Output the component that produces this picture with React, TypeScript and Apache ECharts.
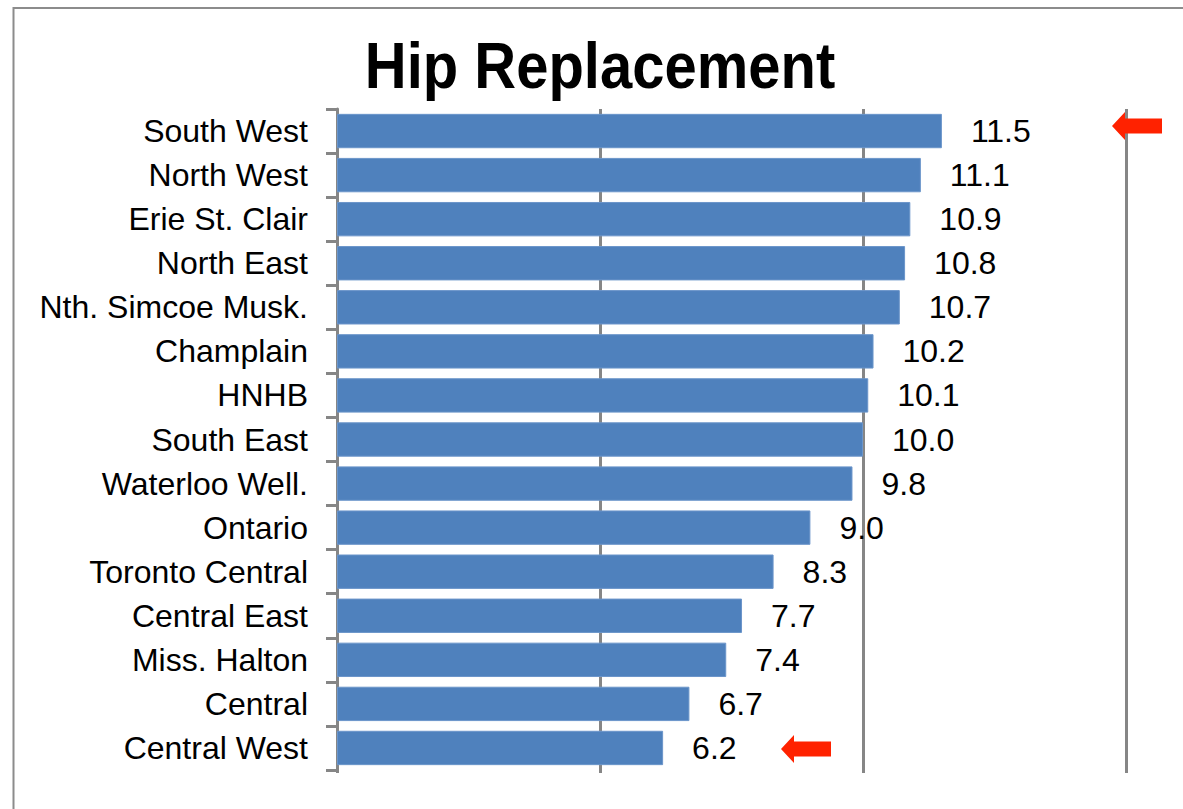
import React, { useEffect, useRef } from "react";
import * as echarts from "echarts";

const categories = [
  "South West",
  "North West",
  "Erie St. Clair",
  "North East",
  "Nth. Simcoe Musk.",
  "Champlain",
  "HNHB",
  "South East",
  "Waterloo Well.",
  "Ontario",
  "Toronto Central",
  "Central East",
  "Miss. Halton",
  "Central",
  "Central West",
];

const values = [11.5, 11.1, 10.9, 10.8, 10.7, 10.2, 10.1, 10.0, 9.8, 9.0, 8.3, 7.7, 7.4, 6.7, 6.2];

const titleText = "Hip Replacement";
const axisMin = 0;
const axisMax = 15;
const axisInterval = 5;

const FONT = "'Liberation Sans', Arial, sans-serif";
const GRAY = "#868686";
const ARROW = "#FF2200";

function arrowPoints(tipX: number, cy: number): number[][] {
  const headLen = 13;
  const headHalf = 14;
  const shaftHalf = 7.5;
  const shaftLen = 37;
  return [
    [tipX, cy],
    [tipX + headLen, cy - headHalf],
    [tipX + headLen, cy - shaftHalf],
    [tipX + headLen + shaftLen, cy - shaftHalf],
    [tipX + headLen + shaftLen, cy + shaftHalf],
    [tipX + headLen, cy + shaftHalf],
    [tipX + headLen, cy + headHalf],
  ];
}

export default function App() {
  const ref = useRef<HTMLDivElement>(null);

  useEffect(() => {
    if (!ref.current) return;
    const chart = echarts.init(ref.current, undefined, { renderer: "svg" });
    chart.setOption({
      animation: false,
      backgroundColor: "#ffffff",
      grid: { left: 337, right: 57, top: 109, bottom: 39, containLabel: false },
      xAxis: {
        type: "value",
        min: axisMin,
        max: axisMax,
        interval: axisInterval,
        axisLabel: { show: false },
        axisLine: { show: false },
        axisTick: { show: true, length: 3, lineStyle: { color: GRAY, width: 3 } },
        splitLine: { show: true, lineStyle: { color: GRAY, width: 3 } },
      },
      yAxis: {
        type: "category",
        data: categories,
        inverse: true,
        axisLine: { show: true, lineStyle: { color: GRAY, width: 3 } },
        axisTick: { show: true, length: 11, lineStyle: { color: GRAY, width: 3 } },
        axisLabel: {
          color: "#000000",
          fontSize: 32,
          fontFamily: FONT,
          margin: 29,
          padding: [5, 0, 0, 0],
        },
        splitLine: { show: false },
      },
      series: [
        {
          type: "bar",
          data: values,
          barCategoryGap: "22%",
          itemStyle: { color: "#4F81BD", borderColor: "#6B95CA", borderWidth: 1 },
          label: {
            show: true,
            position: "right",
            distance: 29,
            color: "#000000",
            fontSize: 32,
            fontFamily: FONT,
            padding: [5, 0, 0, 0],
            formatter: (p: any) => Number(p.value).toFixed(1),
          },
        },
      ],
      graphic: [
        {
          type: "rect",
          shape: { x: 13.5, y: 8, width: 1300, height: 1000 },
          style: { fill: "none", stroke: "#8C8C8C", lineWidth: 2 },
          z: 100,
        },
        {
          type: "text",
          x: 600,
          y: 65,
          scaleY: 1.12,
          style: {
            text: titleText,
            fontSize: 58,
            fontWeight: "bold",
            fontFamily: FONT,
            fill: "#000000",
            textAlign: "center",
            textVerticalAlign: "middle",
          },
          z: 100,
        },
        {
          type: "polygon",
          shape: { points: arrowPoints(1112, 126) },
          style: { fill: ARROW },
          z: 100,
        },
        {
          type: "polygon",
          shape: { points: arrowPoints(781, 749) },
          style: { fill: ARROW },
          z: 100,
        },
      ],
    });
    return () => chart.dispose();
  }, []);

  return (
    <div
      ref={ref}
      style={{ position: "fixed", left: 0, top: 0, width: 1183, height: 809, background: "#fff" }}
    />
  );
}
